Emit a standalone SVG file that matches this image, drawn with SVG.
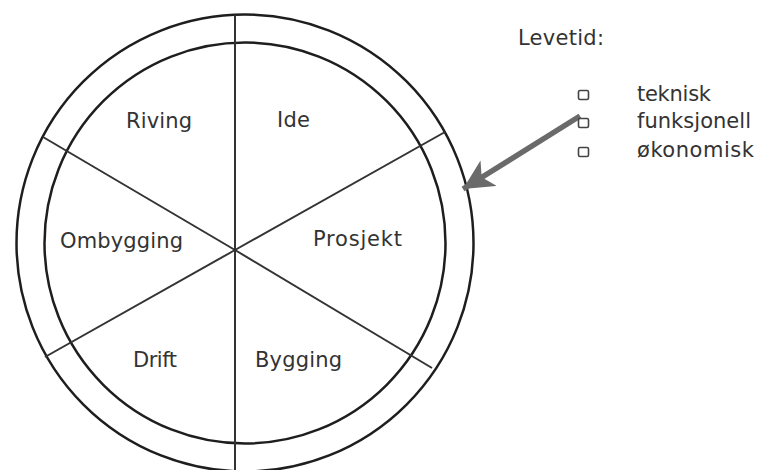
<svg xmlns="http://www.w3.org/2000/svg" width="758" height="470" viewBox="0 0 758 470">
<style>
.ring{fill:none;stroke:#1e1e1e;stroke-width:2.5}
.spoke{stroke:#333;stroke-width:2}
.lbl{font-family:"DejaVu Sans","Liberation Sans",Arial,sans-serif;font-size:21px;fill:#333}
.item{font-family:"DejaVu Sans","Liberation Sans",Arial,sans-serif;font-size:21px;fill:#333}
.box{fill:#fff;stroke:#444;stroke-width:1.6}
</style>
<defs>
<marker id="ah" markerUnits="userSpaceOnUse" markerWidth="34" markerHeight="30" refX="30" refY="15" orient="auto">
<path d="M0,0 L30,15 L0,30 L8,15 Z" fill="#6a6a6a"/>
</marker>
</defs>
<rect width="758" height="470" fill="#fff"/>
<g id="wheel">
<circle class="ring" cx="245" cy="243" r="228.5"/>
<circle class="ring" cx="245" cy="243" r="200.5"/>
</g>
<g id="connectors">
<line class="spoke" x1="235" y1="15" x2="235" y2="470"/>
<line class="spoke" x1="235" y1="250" x2="43" y2="137"/>
<line class="spoke" x1="235" y1="250" x2="445" y2="132"/>
<line class="spoke" x1="235" y1="250" x2="45" y2="357"/>
<line class="spoke" x1="235" y1="250" x2="432" y2="368"/>
<line x1="580" y1="116" x2="463" y2="189" stroke="#6a6a6a" stroke-width="5.5" marker-end="url(#ah)"/>
</g>
<g id="riving"><text class="lbl" x="126" y="128" textLength="66">Riving</text></g>
<g id="ide"><text class="lbl" x="277" y="127" textLength="33">Ide</text></g>
<g id="ombygging"><text class="lbl" x="60" y="248" textLength="123">Ombygging</text></g>
<g id="prosjekt"><text class="lbl" x="313" y="246" textLength="89">Prosjekt</text></g>
<g id="drift"><text class="lbl" x="133" y="367" textLength="44">Drift</text></g>
<g id="bygging"><text class="lbl" x="255" y="367" textLength="87">Bygging</text></g>
<g id="levetid">
<text class="item" x="518" y="45" font-size="22" textLength="86">Levetid:</text>
<rect class="box" x="578.5" y="90.5" width="10" height="9" rx="1.5"/>
<rect class="box" x="578.5" y="118.5" width="10" height="9" rx="1.5"/>
<rect class="box" x="578.5" y="147.5" width="10" height="9" rx="1.5"/>
<text class="item" x="637" y="101" textLength="74">teknisk</text>
<text class="item" x="637" y="128" textLength="114">funksjonell</text>
<text class="item" x="637" y="157" textLength="117">økonomisk</text>
</g>
</svg>
